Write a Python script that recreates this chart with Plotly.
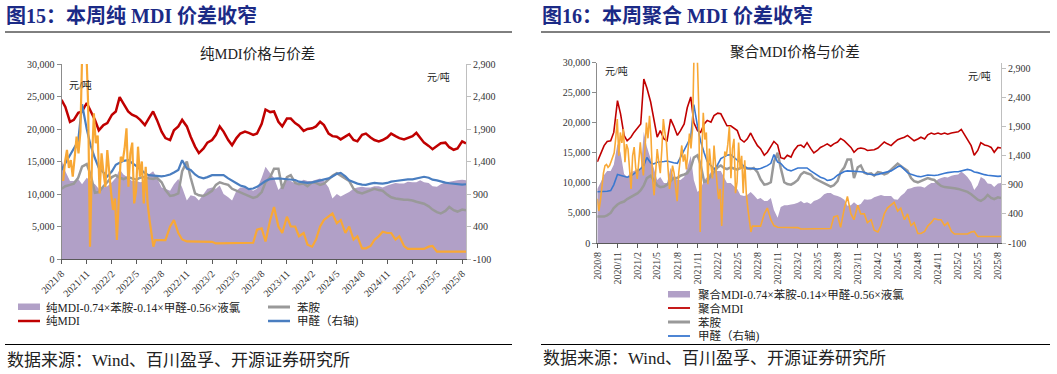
import pandas as pd
import plotly.graph_objects as go

W, H = 1057, 374

# ---------------- data (semi-monthly, 2020/8 .. 2025/8) ----------------
dates = pd.date_range("2020-08-01", periods=122, freq="SMS")
LEFT_START = 24  # pure-MDI chart starts 2021/8

# 苯胺 (thousand yuan/t, left axis)
aniline_k = [
    4.4, 4.4, 4.4, 4.6, 5.0, 5.8, 6.4, 6.7, 6.9, 7.3,
    7.7, 8.0, 8.3, 8.8, 9.6, 10.8, 11.2, 10.5, 9.6, 9.3,
    9.4, 9.7, 10.3, 10.8, 10.8, 11.2, 11.4, 11.6, 12.5, 14.2,
    14.6, 13.0, 10.2, 10.3, 11.2, 11.8, 12.6, 12.9, 12.5, 12.3,
    12.6, 12.4, 12.2, 12.5, 12.6, 12.4, 12.3, 12.5, 11.8, 10.6,
    9.7, 9.8, 10.1, 13.5, 15.0, 12.5, 10.1, 9.8, 9.7, 10.0,
    10.5, 11.4, 11.8, 11.6, 11.4, 10.8, 10.5, 10.3, 9.9, 9.6,
    9.4, 9.6, 10.3, 11.8, 12.6, 13.9, 13.9, 10.8, 12.6, 12.9,
    11.7, 11.5, 11.6, 11.2, 11.8, 11.7, 11.4, 11.6, 12.2, 12.8,
    13.2, 12.8, 12.4, 12.0, 10.8, 10.3, 10.1, 10.3, 10.5, 10.8,
    10.6, 10.5, 9.9, 9.5, 9.3, 9.2, 9.1, 9.1, 9.0, 8.8,
    8.7, 8.5, 8.1, 7.6, 7.2, 7.0, 7.4, 8.0, 7.5, 7.3,
    7.6, 7.5,
]

# 甲醛 (yuan/t, right axis)
formaldehyde = [
    780, 780, 785, 790, 800, 900, 1080, 1060, 1040, 1030,
    1050, 1090, 1130, 1180, 1230, 1370, 1280, 1260, 1290, 1290,
    1300, 1310, 1290, 1280, 1270, 1380, 1500, 1600, 1720, 2280,
    1900, 1650, 1450, 1300, 1230, 1170, 1250, 1350, 1380, 1410,
    1420, 1380, 1330, 1280, 1220, 1190, 1185, 1175, 1170, 1180,
    1200, 1230, 1270, 1420, 1290, 1270, 1200, 1160, 1140, 1160,
    1190, 1190, 1185, 1190, 1140, 1100, 1065, 1030, 1010, 975,
    985, 1010, 1065, 1100, 1130, 1140, 1140, 1135, 1130, 1125,
    1115, 1090, 1080, 1070, 1080, 1095, 1110, 1125, 1140, 1170,
    1210, 1225, 1170, 1110, 1080, 1060, 1045, 1040, 1060, 1070,
    1065, 1060, 1070, 1090, 1100, 1110, 1120, 1125, 1125, 1135,
    1145, 1165, 1150, 1120, 1110, 1090, 1075, 1065, 1055, 1045,
    1045, 1050,
]

# 液氯 (yuan/t, right axis): weekly while volatile (2020/8 - 2022/7) ...
chlorine_weekly_dates = pd.date_range("2020-08-01", periods=104, freq="7D")
chlorine_weekly = [
    660, 450, 620, 900, 1100, 1230, 1250, 1200, 1230, 1300,
    1380, 1450, 1700, 2030, 1400, 1800, 1620, 1860, 1290, 1600,
    1515, 1100, 830, 1400, 1550, 1200, 1000, 1300, 1630, 1300,
    1060, 1500, 1970, 1700, 2085, 1700, 1000, 720, 1200, 1515,
    1300, 1100, 1500, 2030, 1800, 1630, 1200, 830, 1000, 1230,
    1100, 900, 620, 1100, 1400, 1577, 1300, 1423, 1167, 1460,
    1782, 1525, 1860, 3200, 3200, 3200, 2295, 90, 1400, 2140,
    1680, 1800, 910, 1525, 1230, 1010, 1577, 1200, 910, 654,
    830, 192, 808, 1474, 1400, 1600, 1910, 1013, 1525, 1690,
    756, 950, 1628, 1167, 1400, 756, 1320, 756, 500, 295,
    90, 192, 190, 190,
]
# ... then semi-monthly from 2022/8
CHLORINE_SEMI_START = 48
chlorine_semi = [
    190, 190,
    400, 500, 300, 200, 170, 170, 170, 170, 170, 170,
    165, 140, 140, 140, 140, 140, 140, 140, 140, 140,
    150, 350, 370, 170, 500, 700, 400, 300, 550, 400,
    400, 250, 300, 120, 90, 200, 400, 500, 550, 600,
    450, 500, 300, 400, 200, 250, 64, 64, 100, 192,
    250, 320, 300, 300, 200, 250, 100, 55, 55, 55,
    55, 55, 90, 100, 13, 13, 13, 13, 13, 13,
    13, 13,
]

# 纯MDI (thousand yuan/t), 2021/8 ..
pure_mdi_k = [
    24.5, 23.4, 21.1, 21.4, 22.5, 22.7, 24.0, 22.9, 21.4, 19.8,
    20.6, 20.9, 22.2, 22.7, 24.9, 23.9, 22.7, 22.2, 21.9, 21.4,
    20.6, 21.6, 22.7, 21.4, 19.6, 18.6, 18.3, 19.8, 20.4, 21.4,
    20.4, 18.8, 17.3, 16.3, 17.0, 17.9, 18.3, 19.1, 20.4, 19.6,
    18.3, 17.5, 18.6, 19.3, 19.6, 19.4, 19.1, 19.3, 20.8, 23.0,
    22.6, 22.7, 21.1, 20.4, 21.6, 21.6, 20.9, 20.5, 19.7, 20.0,
    20.1, 20.4, 21.1, 20.6, 19.3, 18.9, 18.8, 18.4, 18.9, 19.2,
    18.3, 18.1, 19.1, 19.3, 18.7, 18.3, 18.1, 18.3, 18.7, 19.3,
    18.9, 18.6, 18.4, 18.6, 18.9, 19.4, 18.7, 17.9, 17.4, 16.9,
    17.4, 17.8, 17.9, 17.2, 16.8, 17.0, 18.1, 17.8,
]

# 纯MDI价差 (thousand yuan/t)
pure_spread_k = [
    15.3, 13.5, 12.0, 12.0, 12.3, 11.5, 12.5, 12.0, 11.5, 10.8,
    11.0, 11.2, 11.8, 12.5, 13.8, 13.0, 12.5, 12.0, 12.0, 11.8,
    12.0, 13.0, 13.5, 12.5, 11.0, 10.8, 10.5, 11.5, 12.3, 11.0,
    9.0, 9.8, 9.6, 9.0, 10.0, 10.8, 11.0, 10.8, 11.3, 10.0,
    9.5, 9.0, 10.5, 11.0, 11.0, 10.8, 10.5, 10.8, 12.5, 14.2,
    13.2, 12.5, 10.6, 11.3, 12.2, 12.0, 11.6, 11.8, 12.2, 12.0,
    12.0, 12.2, 12.4, 12.0, 11.0, 9.3, 10.0, 9.6, 10.0, 10.3,
    10.8, 11.0, 11.1, 11.0, 11.0, 11.2, 11.2, 11.0, 11.3, 11.5,
    11.7, 11.6, 11.6, 11.9, 11.8, 11.8, 12.1, 11.8, 11.7, 11.2,
    11.1, 11.5, 11.8, 11.9, 12.0, 12.1, 12.2, 12.1,
]

# 聚合MDI (thousand yuan/t), 2020/8 ..
poly_mdi_k = [
    13.5, 14.6, 16.2, 16.9, 17.0, 18.4, 23.7, 21.5, 17.9, 17.0,
    17.6, 18.4, 19.2, 19.8, 27.3, 25.8, 23.5, 20.9, 17.6, 18.7,
    17.3, 17.0, 20.6, 19.5, 17.9, 18.7, 19.8, 22.5, 24.3, 20.0,
    18.7, 18.4, 19.8, 20.4, 20.1, 21.2, 21.6, 21.5, 20.4, 19.5,
    19.5, 19.1, 18.7, 17.3, 16.8, 17.3, 18.3, 17.3, 16.2, 15.7,
    14.6, 15.1, 16.2, 16.9, 16.3, 14.2, 14.0, 14.6, 14.3, 15.4,
    16.2, 16.3, 15.9, 16.7, 15.7, 15.0, 15.4, 15.9, 16.2, 16.5,
    16.1, 16.5, 16.8, 17.4, 17.0, 16.5, 15.9, 15.1, 15.7, 15.8,
    15.7, 15.4, 15.4, 15.5, 15.8, 16.3, 16.8, 16.5, 16.2, 16.7,
    17.2, 17.4, 17.6, 17.9, 17.4, 17.0, 17.3, 17.6, 17.3, 18.0,
    18.3, 18.1, 18.3, 18.1, 18.3, 18.1, 18.3, 18.4, 18.5, 18.9,
    18.1, 17.3, 16.2, 14.6, 15.4, 16.7, 16.3, 16.2, 15.9, 15.1,
    15.9, 15.8,
]

# 聚合MDI价差 (thousand yuan/t)
poly_spread_k = [
    9.0, 10.0, 11.3, 12.0, 12.0, 13.0, 16.5, 15.0, 11.5, 11.0,
    11.8, 12.0, 12.3, 12.2, 18.5, 16.0, 14.0, 12.5, 10.5, 11.0,
    10.0, 10.0, 12.5, 11.0, 10.5, 10.5, 11.0, 12.5, 14.5, 10.5,
    8.5, 9.0, 10.5, 11.0, 11.8, 12.0, 12.0, 12.0, 11.0, 10.0,
    10.0, 9.5, 9.0, 8.0, 7.8, 8.0, 8.5, 8.0, 7.3, 7.5,
    7.0, 7.0, 7.5, 5.5, 4.2, 6.0, 6.3, 6.3, 6.4, 6.5,
    6.7, 7.0, 6.6, 6.8, 6.5, 7.0, 7.2, 7.5, 8.1, 8.3,
    8.3, 8.0, 7.8, 7.6, 7.2, 6.2, 6.3, 6.8, 6.3, 6.5,
    7.3, 7.2, 7.3, 7.6, 7.8, 8.0, 7.8, 7.8, 7.8, 7.3,
    7.2, 7.8, 8.3, 9.0, 9.1, 9.3, 9.4, 9.4, 9.2, 9.6,
    10.0, 10.0, 10.6, 10.8, 11.0, 10.9, 11.2, 11.3, 11.4, 11.9,
    11.5, 11.0, 10.1, 8.8, 9.6, 11.0, 10.6, 9.9, 9.8, 9.3,
    9.9, 10.0,
]

left_ticklabels = ["2021/8", "2021/11", "2022/2", "2022/5", "2022/8", "2022/11",
                   "2023/2", "2023/5", "2023/8", "2023/11", "2024/2", "2024/5",
                   "2024/8", "2024/11", "2025/2", "2025/5", "2025/8"]
right_ticklabels = ["2020/8", "2020/11", "2021/2", "2021/5"] + left_ticklabels
y_left_ticks = [0, 5000, 10000, 15000, 20000, 25000, 30000]
y_right_ticks = [-100, 400, 900, 1400, 1900, 2400, 2900]

# ---------------- styling ----------------
SERIF = "Liberation Serif, 'Noto Sans CJK SC', serif"
NAVY = "#1B2A86"
C_AREA = "#B1A0C7"
C_RED = "#C00000"
C_GRAY = "#999999"
C_BLUE_L = "#4A7EC0"
C_BLUE_R = "#3A78D0"
C_ORANGE = "#F8A836"


def px(x):
    return x / W


def py(y):
    return 1 - y / H


K = lambda arr: [v * 1000 for v in arr]
ldates = dates[LEFT_START:]

# full chlorine series (weekly part + semi-monthly part)
cl_x = list(chlorine_weekly_dates) + list(dates[CHLORINE_SEMI_START:])
cl_y = chlorine_weekly + chlorine_semi
left_start_date = dates[LEFT_START]
cl_left = [(d, v) for d, v in zip(cl_x, cl_y) if d >= left_start_date]
cl_left_x = [d for d, _ in cl_left]
cl_left_y = [v for _, v in cl_left]

fig = go.Figure()

# ---- left chart ----
fig.add_trace(go.Scatter(x=ldates, y=K(pure_spread_k), fill="tozeroy", mode="none",
                         fillcolor=C_AREA, xaxis="x", yaxis="y", showlegend=False))
fig.add_trace(go.Scatter(x=ldates, y=K(pure_mdi_k), mode="lines",
                         line=dict(color=C_RED, width=2.5), xaxis="x", yaxis="y", showlegend=False))
fig.add_trace(go.Scatter(x=ldates, y=K(aniline_k[LEFT_START:]), mode="lines",
                         line=dict(color=C_GRAY, width=2.5), xaxis="x", yaxis="y", showlegend=False))
fig.add_trace(go.Scatter(x=ldates, y=formaldehyde[LEFT_START:], mode="lines",
                         line=dict(color=C_BLUE_L, width=2.2), xaxis="x", yaxis="y2", showlegend=False))
fig.add_trace(go.Scatter(x=cl_left_x, y=cl_left_y, mode="lines",
                         line=dict(color=C_ORANGE, width=2.2), xaxis="x", yaxis="y2", showlegend=False))

# ---- right chart ----
fig.add_trace(go.Scatter(x=dates, y=K(poly_spread_k), fill="tozeroy", mode="none",
                         fillcolor=C_AREA, xaxis="x2", yaxis="y3", showlegend=False))
fig.add_trace(go.Scatter(x=dates, y=K(poly_mdi_k), mode="lines",
                         line=dict(color=C_RED, width=1.6), xaxis="x2", yaxis="y3", showlegend=False))
fig.add_trace(go.Scatter(x=dates, y=K(aniline_k), mode="lines",
                         line=dict(color=C_GRAY, width=2.5), xaxis="x2", yaxis="y3", showlegend=False))
fig.add_trace(go.Scatter(x=dates, y=formaldehyde, mode="lines",
                         line=dict(color=C_BLUE_R, width=1.6), xaxis="x2", yaxis="y4", showlegend=False))
fig.add_trace(go.Scatter(x=cl_x, y=cl_y, mode="lines",
                         line=dict(color=C_ORANGE, width=1.6), xaxis="x2", yaxis="y4", showlegend=False))

tick_font = dict(family=SERIF, size=10, color="#333333")


def xaxis_cfg(domain, anchor, labels, rng, angle):
    return dict(domain=domain, anchor=anchor, type="date", range=rng,
                tickvals=[pd.to_datetime(t, format="%Y/%m") for t in labels],
                ticktext=labels, tickangle=angle, tickfont=tick_font,
                showline=True, linecolor="#595959", linewidth=1,
                ticks="outside", ticklen=4, tickcolor="#595959", automargin=False,
                showgrid=False, zeroline=False, fixedrange=True)


def yaxis_cfg(domain, anchor, rng, tickvals, side="left", overlaying=None, color="#8C8C8C"):
    d = dict(domain=domain, anchor=anchor, range=rng, tickvals=tickvals,
             ticktext=[f"{v:,}" for v in tickvals], tickfont=tick_font, side=side,
             showline=True, linecolor=color, linewidth=1, ticks="outside", ticklen=4,
             tickcolor=color, showgrid=False, zeroline=False, fixedrange=True,
             automargin=False)
    if overlaying:
        d["overlaying"] = overlaying
    return d


L_X = [px(61.5), px(466)]
L_Y = [py(259), py(64)]
R_X = [px(597.3), px(1001)]
R_Y = [py(243), py(62.7)]

layout = dict(
    width=W, height=H, margin=dict(l=0, r=0, t=0, b=0, pad=0, autoexpand=False),
    paper_bgcolor="white", plot_bgcolor="white", showlegend=False,
    xaxis=xaxis_cfg(L_X, "y", left_ticklabels, [ldates[0], ldates[-1]], -45),
    yaxis=yaxis_cfg(L_Y, "x", [0, 30000], y_left_ticks),
    yaxis2=yaxis_cfg(L_Y, "x", [-100, 2900], y_right_ticks, side="right", overlaying="y",
                     color="#BFBFBF"),
    xaxis2=xaxis_cfg(R_X, "y3", right_ticklabels, [dates[0], dates[-1]], -90),
    yaxis3=yaxis_cfg(R_Y, "x2", [0, 30000], y_left_ticks),
    yaxis4=yaxis_cfg(R_Y, "x2", [-100, 3000], y_right_ticks, side="right", overlaying="y3",
                     color="#BFBFBF"),
)
fig.update_layout(**layout)

shapes = []
annotations = []


def text(x, y, s, size=11, color="#222222", anchor="left", family=SERIF):
    annotations.append(dict(x=px(x), y=py(y), xref="paper", yref="paper", text=s,
                            showarrow=False, xanchor=anchor, yanchor="middle",
                            align=anchor if anchor != "center" else "center",
                            borderpad=0, font=dict(family=family, size=size, color=color)))


def hline(x0, x1, y, color="#000000", width=1):
    shapes.append(dict(type="line", xref="paper", yref="paper", x0=px(x0), x1=px(x1),
                       y0=py(y), y1=py(y), line=dict(color=color, width=width)))


def rect(x0, x1, y0, y1, color):
    shapes.append(dict(type="rect", xref="paper", yref="paper", x0=px(x0), x1=px(x1),
                       y0=py(y1), y1=py(y0), fillcolor=color, line=dict(width=0)))


# headings
text(5, 16, "<b>图15：本周纯 MDI 价差收窄</b>", size=20, color=NAVY)
text(541, 16, "<b>图16：本周聚合 MDI 价差收窄</b>", size=20, color=NAVY)
hline(5, 512, 32)
hline(541, 1050, 32)

# chart titles
text(257, 54, "纯MDI价格与价差", size=14.5, anchor="center")
text(795, 52, "聚合MDI价格与价差", size=14.5, anchor="center")

# unit labels
text(68, 85, "元/吨", size=10)
text(426, 77, "元/吨", size=10)
text(604, 71, "元/吨", size=10)
text(967, 76, "元/吨", size=10)

# left legend
rect(18, 40, 303.5, 310, C_AREA)
text(45, 307, "纯MDI-0.74×苯胺-0.14×甲醛-0.56×液氯", size=11.5)
hline(268, 290, 307, C_GRAY, 3)
text(296, 307, "苯胺", size=11.5)
hline(18, 40, 321, C_RED, 2.5)
text(45, 321, "纯MDI", size=11.5)
hline(268, 290, 321, C_BLUE_L, 2.5)
text(296, 321, "甲醛（右轴)", size=11.5)

# right legend
rect(668, 690, 291, 297.5, C_AREA)
text(697, 294, "聚合MDI-0.74×苯胺-0.14×甲醛-0.56×液氯", size=11.5)
hline(668, 690, 308, C_RED, 1.8)
text(697, 308, "聚合MDI", size=11.5)
hline(668, 690, 322, C_GRAY, 3)
text(697, 322, "苯胺", size=11.5)
hline(668, 690, 336, C_BLUE_R, 1.8)
text(697, 336, "甲醛（右轴)", size=11.5)

# bottom rules and sources
hline(5, 512, 344.5)
hline(541, 1050, 344.5)
text(6, 360, "数据来源：Wind、百川盈孚、开源证券研究所", size=17)
text(542, 358, "数据来源：Wind、百川盈孚、开源证券研究所", size=17)

fig.update_layout(shapes=shapes, annotations=annotations)
fig.write_html(
    "out.html",
    config={"displayModeBar": False},
    post_script="document.body.style.margin='0';document.body.style.overflow='hidden';",
)
